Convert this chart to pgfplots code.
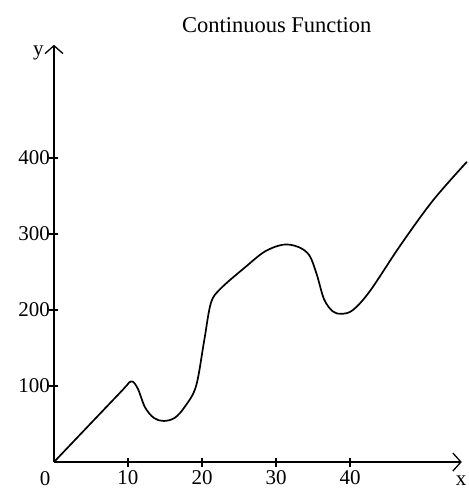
\documentclass[border=0pt]{standalone}
\usepackage{fontspec}
\setmainfont{Liberation Serif}
\usepackage{pgfplots}
\pgfplotsset{compat=1.18}
\usetikzlibrary{arrows.meta}
\begin{document}
\begin{tikzpicture}
\begin{axis}[
  x=7.4pt, y=0.76pt,
  xmin=0, xmax=55.1, ymin=0, ymax=549,
  axis lines=left,
  axis line style={line width=1.4pt, -{Straight Barb[length=8pt,width=18pt,line width=1.3pt]}},
  clip=false,
  xtick={10,20,30,40}, ytick={100,200,300,400},
  tick align=center, major tick length=9pt,
  tick style={line width=1.1pt, black},
  /pgf/number format/assume math mode=true,
  tick label style={font=\fontsize{21}{24}\selectfont},
  xticklabel style={yshift=0pt},
  yticklabel style={xshift=4pt},
]
% the curve
\addplot[line width=1.7pt, smooth, tension=0.55] coordinates {
  (0,0) (9,92) (10.4,106) (11.3,97) (12.3,72) (13.5,58) (14.8,54)
  (16.3,58) (17.7,73) (19.2,100) (20.3,160) (21.2,209) (22.5,228)
  (25.8,256) (28.5,277) (31,286) (33,283) (34.5,272) (35.5,247)
  (36.5,214) (37.7,198) (38.9,195) (40.4,200) (42.7,225) (46.8,285)
  (51.2,344) (55.8,395)
};
\node[font=\fontsize{21}{24}\selectfont] at (axis cs:-2.1,538) {y};
\node[font=\fontsize{21}{24}\selectfont] at (axis cs:-1.2,-22) {0};
\node[font=\fontsize{21}{24}\selectfont] at (axis cs:55.0,-25) {x};
\node[font=\fontsize{22.5}{26}\selectfont] at (axis cs:30.1,575) {Continuous Function};
\coordinate (bl) at (axis cs:-7.297,-39.47);
\coordinate (tr) at (axis cs:55.95,607.9);
\end{axis}
\pgfresetboundingbox
\path[use as bounding box] (bl) rectangle (tr);
\end{tikzpicture}
\end{document}
